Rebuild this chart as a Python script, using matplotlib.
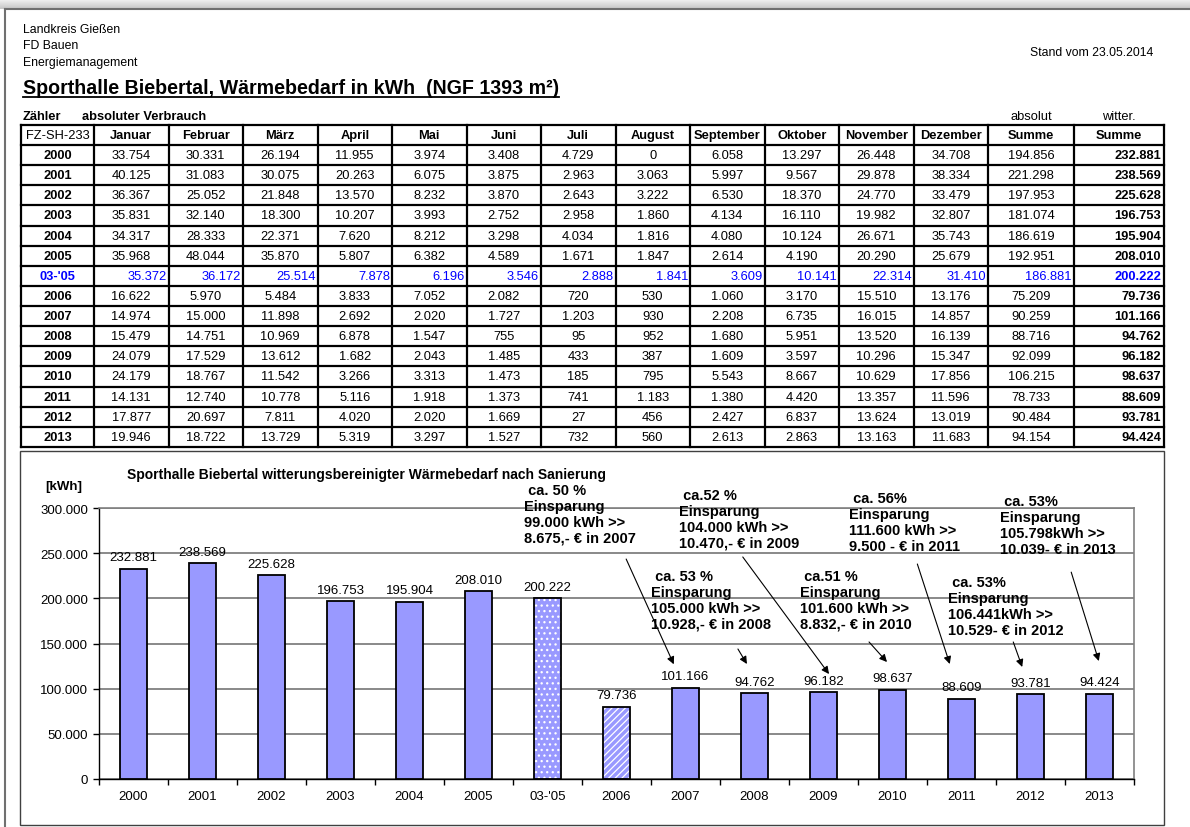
import matplotlib
matplotlib.use("Agg")
import matplotlib.pyplot as plt
from matplotlib.patches import Rectangle
import numpy as np

plt.rcParams['font.family'] = ['Liberation Sans', 'DejaVu Sans']
plt.rcParams['hatch.linewidth'] = 0.9

# --- data -------------------------------------------------------------
row_labels = ["2000", "2001", "2002", "2003", "2004", "2005", "03-'05", "2006",
              "2007", "2008", "2009", "2010", "2011", "2012", "2013"]
month_names = ["Januar", "Februar", "März", "April", "Mai", "Juni", "Juli",
               "August", "September", "Oktober", "November", "Dezember"]

jan = [33754, 40125, 36367, 35831, 34317, 35968, 35372, 16622, 14974, 15479, 24079, 24179, 14131, 17877, 19946]
feb = [30331, 31083, 25052, 32140, 28333, 48044, 36172, 5970, 15000, 14751, 17529, 18767, 12740, 20697, 18722]
mar = [26194, 30075, 21848, 18300, 22371, 35870, 25514, 5484, 11898, 10969, 13612, 11542, 10778, 7811, 13729]
apr = [11955, 20263, 13570, 10207, 7620, 5807, 7878, 3833, 2692, 6878, 1682, 3266, 5116, 4020, 5319]
mai = [3974, 6075, 8232, 3993, 8212, 6382, 6196, 7052, 2020, 1547, 2043, 3313, 1918, 2020, 3297]
jun = [3408, 3875, 3870, 2752, 3298, 4589, 3546, 2082, 1727, 755, 1485, 1473, 1373, 1669, 1527]
jul = [4729, 2963, 2643, 2958, 4034, 1671, 2888, 720, 1203, 95, 433, 185, 741, 27, 732]
aug = [0, 3063, 3222, 1860, 1816, 1847, 1841, 530, 930, 952, 387, 795, 1183, 456, 560]
sep = [6058, 5997, 6530, 4134, 4080, 2614, 3609, 1060, 2208, 1680, 1609, 5543, 1380, 2427, 2613]
okt = [13297, 9567, 18370, 16110, 10124, 4190, 10141, 3170, 6735, 5951, 3597, 8667, 4420, 6837, 2863]
nov = [26448, 29878, 24770, 19982, 26671, 20290, 22314, 15510, 16015, 13520, 10296, 10629, 13357, 13624, 13163]
dez = [34708, 38334, 33479, 32807, 35743, 25679, 31410, 13176, 14857, 16139, 15347, 17856, 11596, 13019, 11683]
summe_abs = [194856, 221298, 197953, 181074, 186619, 192951, 186881, 75209, 90259, 88716, 92099, 106215, 78733, 90484, 94154]
summe_witter = [232881, 238569, 225628, 196753, 195904, 208010, 200222, 79736, 101166, 94762, 96182, 98637, 88609, 93781, 94424]

savings_texts = [
    " ca. 50 %\nEinsparung\n99.000 kWh >>\n8.675,- € in 2007",
    " ca.52 %\nEinsparung\n104.000 kWh >>\n10.470,- € in 2009",
    " ca. 56%\nEinsparung\n111.600 kWh >>\n9.500 - € in 2011",
    " ca. 53%\nEinsparung\n105.798kWh >>\n10.039- € in 2013",
    " ca. 53 %\nEinsparung\n105.000 kWh >>\n10.928,- € in 2008",
    " ca.51 %\nEinsparung\n101.600 kWh >>\n8.832,- € in 2010",
    " ca. 53%\nEinsparung\n106.441kWh >>\n10.529- € in 2012",
]
# text anchor (category position, kWh) - top left of each block
savings_pos = [(5.66, 327700), (7.91, 322100), (10.37, 318800), (12.56, 315500),
               (7.50, 232500), (9.66, 232500), (11.80, 225800)]
# arrows: (tail, head) in (category position, kWh)
arrow_tails = [(7.14, 243500), (8.83, 245800), (11.36, 238000), (13.59, 229000),
               (8.76, 143900), (10.66, 151700), (12.75, 151700)]
arrow_heads = [(7.83, 127000), (10.08, 116200), (11.83, 127300), (13.99, 130600),
               (8.89, 127300), (10.92, 129500), (12.88, 124000)]


def de(v):
    return f"{v:,}".replace(",", ".")


W, H = 1190, 828
fig = plt.figure(figsize=(W / 100, H / 100), dpi=100)

# --- page overlay in pixel coordinates --------------------------------
page = fig.add_axes([0, 0, 1, 1])
grad = np.linspace(0.95, 0.78, 10).reshape(-1, 1)
page.imshow(grad, extent=[0, W, 10, 0], cmap="gray", vmin=0, vmax=1, aspect="auto")
page.set_xlim(0, W)
page.set_ylim(H, 0)
page.axis("off")
page.plot([5, W], [10, 10], color="#707070", lw=1.5)
page.plot([5, 5], [10, H], color="#707070", lw=1.5)

page.text(23, 30, "Landkreis Gießen", fontsize=8.8, va="center")
page.text(23, 46, "FD Bauen", fontsize=8.8, va="center")
page.text(23, 63, "Energiemanagement", fontsize=8.8, va="center")
page.text(1153, 53, "Stand vom 23.05.2014", fontsize=8.8, va="center", ha="right")
t = page.text(23, 88, "Sporthalle Biebertal, Wärmebedarf in kWh  (NGF 1393 m²)",
              fontsize=14.1, weight="bold", va="center")
fig.canvas.draw()
bb = t.get_window_extent().transformed(page.transData.inverted())
page.plot([bb.x0, bb.x1], [98, 98], color="black", lw=1.3)

page.text(23, 117, "Zähler", fontsize=9.3, weight="bold", va="center")
page.text(82, 117, "absoluter Verbrauch", fontsize=9.3, weight="bold", va="center")
page.text(1031, 117, "absolut", fontsize=9.3, va="center", ha="center")
page.text(1119, 117, "witter.", fontsize=9.3, va="center", ha="center")

# --- table --------------------------------------------------------------
col_x = [21, 94, 168.5, 243, 317.5, 392, 466.5, 541, 615.5, 690, 764.5, 839, 913.5, 988, 1074, 1164]
top, head_h, row_h = 126, 20, 20.13
n_rows = len(row_labels)
bottom = top + head_h + row_h * n_rows
row_y = [top] + [top + head_h + row_h * k for k in range(n_rows + 1)]
for y in row_y:
    page.plot([col_x[0], col_x[-1]], [y, y], color="black", lw=1.6, solid_capstyle="projecting")
for x in col_x:
    page.plot([x, x], [top, bottom], color="black", lw=1.6, solid_capstyle="projecting")

fs = 9.3
hy = top + head_h / 2
page.text((col_x[0] + col_x[1]) / 2, hy, "FZ-SH-233", fontsize=fs, ha="center", va="center")
for j, name in enumerate(month_names + ["Summe", "Summe"]):
    page.text((col_x[j + 1] + col_x[j + 2]) / 2, hy, name, fontsize=fs,
              weight="bold", ha="center", va="center")

columns = [jan, feb, mar, apr, mai, jun, jul, aug, sep, okt, nov, dez, summe_abs]
for r, label in enumerate(row_labels):
    y = top + head_h + row_h * (r + 0.5)
    blue = label == "03-'05"
    c = "#0000ff" if blue else "black"
    page.text((col_x[0] + col_x[1]) / 2, y, label, fontsize=fs, weight="bold",
              ha="center", va="center", color=c)
    for j, col in enumerate(columns):
        if blue:
            page.text(col_x[j + 2] - 2, y, de(col[r]), fontsize=fs, ha="right",
                      va="center", color=c)
        else:
            page.text((col_x[j + 1] + col_x[j + 2]) / 2, y, de(col[r]), fontsize=fs,
                      ha="center", va="center", color=c)
    page.text(col_x[-1] - 3, y, de(summe_witter[r]), fontsize=fs, weight="bold",
              ha="right", va="center", color=c)

# --- chart frame and titles ---------------------------------------------
page.add_patch(Rectangle((20, 452), 1144, 374, fill=False, edgecolor="#404040", lw=1))
page.text(127, 475, "Sporthalle Biebertal witterungsbereinigter Wärmebedarf nach Sanierung",
          fontsize=10, weight="bold", va="center")
page.text(45, 487, "[kWh]", fontsize=9.5, weight="bold", va="center")

# --- bar chart ------------------------------------------------------------
ax = fig.add_axes([99 / W, (H - 780) / H, (1134 - 99) / W, (780 - 509) / H])
ax.patch.set_alpha(0)
x = np.arange(n_rows)
bar_color = "#9999ff"
bars = ax.bar(x, summe_witter, width=0.4, color=bar_color, edgecolor="black",
              linewidth=1.3, zorder=3)
for i, pattern in [(6, "..."), (7, "/////")]:
    bars[i].set_facecolor("none")
    ax.bar(x[i], summe_witter[i], width=0.4, color=bar_color, edgecolor="white",
           linewidth=0, hatch=pattern, zorder=2.5)

for i, v in enumerate(summe_witter):
    ax.annotate(de(v), (x[i], v), xytext=(0, 4), textcoords="offset points",
                ha="center", va="bottom", fontsize=9.5, zorder=4)

ax.set_xlim(-0.5, n_rows - 0.5)
ax.set_ylim(0, 300000)
ax.set_yticks(np.arange(0, 300001, 50000))
ax.set_yticklabels([de(v) for v in range(0, 300001, 50000)])
ax.yaxis.grid(True, color="#808080", lw=1.3)
ax.set_axisbelow(True)
ax.set_xticks(x)
ax.set_xticklabels(row_labels)
ax.set_xticks(np.arange(-0.5, n_rows), minor=True)
ax.tick_params(axis="x", which="major", length=0, pad=8, labelsize=9.5)
ax.tick_params(axis="x", which="minor", length=4, width=1, direction="out")
ax.tick_params(axis="y", length=4.3, width=1, pad=3.6, labelsize=9.5)
for s in ["left", "bottom"]:
    ax.spines[s].set_color("black")
    ax.spines[s].set_linewidth(1)
for s in ["top", "right"]:
    ax.spines[s].set_color("#808080")
    ax.spines[s].set_linewidth(1.2)

for txt, pos in zip(savings_texts, savings_pos):
    ax.text(pos[0], pos[1], txt, fontsize=10.5, weight="bold", ha="left", va="top",
            linespacing=1.17, zorder=5, clip_on=False)
for tail, head in zip(arrow_tails, arrow_heads):
    ax.annotate("", xy=head, xytext=tail, annotation_clip=False,
                arrowprops=dict(arrowstyle="-|>", color="black", lw=0.8,
                                mutation_scale=11, shrinkA=0, shrinkB=0), zorder=5)

fig.savefig("out.png", dpi=100)
